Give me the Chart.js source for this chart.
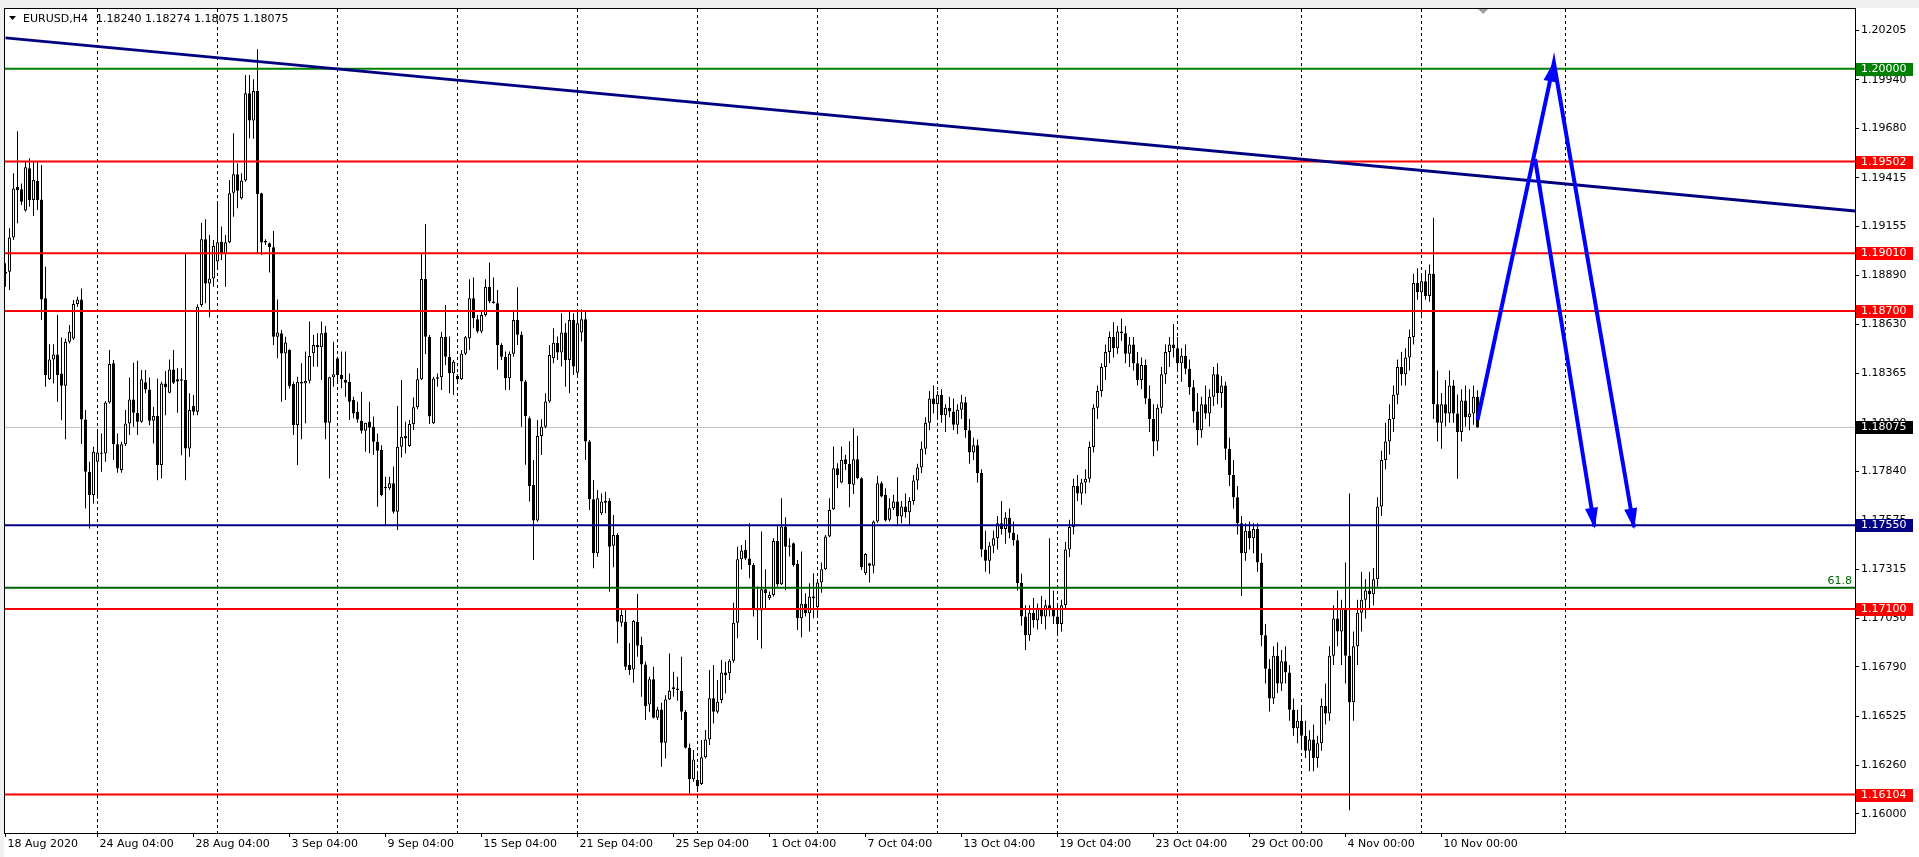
<!DOCTYPE html>
<html><head><meta charset="utf-8">
<script src="https://cdn.jsdelivr.net/npm/chart.js@4.4.1/dist/chart.umd.min.js"></script>
<style>html,body{margin:0;padding:0;background:#fff;overflow:hidden}canvas{display:block}</style>
</head><body><canvas id="c" width="1919" height="857"></canvas>
<script>
const symbolTitle = 'EURUSD,H4';
const lastQuote = ['1.18240', '1.18274', '1.18075', '1.18075'];

const open = [1.18900,1.18911,1.19095,1.19367,1.19353,1.19239,1.19466,1.19296,1.19398,1.19299,
1.18768,1.18333,1.18440,1.18467,1.18365,1.18299,1.18535,1.18553,1.18737,1.18762,
1.18118,1.17837,1.17712,1.17891,1.17941,1.17935,1.18209,1.18419,1.17985,1.17846,
1.17985,1.18096,1.18225,1.18154,1.18105,1.18317,1.18279,1.18111,1.18136,1.17873,
1.18311,1.18261,1.18386,1.18333,1.18326,1.18329,1.17962,1.18190,1.18159,1.18732,
1.19085,1.18848,1.18875,1.18965,1.19072,1.19006,1.19069,1.19335,1.19434,1.19305,
1.19400,1.19869,1.19722,1.19881,1.19332,1.19076,1.19063,1.19042,1.18562,1.18580,
1.18472,1.18490,1.18308,1.18088,1.18320,1.18311,1.18326,1.18473,1.18517,1.18505,
1.18585,1.18100,1.18344,1.18446,1.18356,1.18330,1.18320,1.18222,1.18159,1.18111,
1.18057,1.18106,1.18079,1.17998,1.17954,1.17757,1.17748,1.17775,1.17622,1.17971,
1.18029,1.17975,1.18093,1.18183,1.18333,1.18872,1.18562,1.18097,1.18336,1.18344,
1.18562,1.18455,1.18366,1.18351,1.18334,1.18470,1.18554,1.18769,1.18656,1.18590,
1.18679,1.18830,1.18751,1.18742,1.18518,1.18455,1.18339,1.18470,1.18652,1.18572,
1.18321,1.18124,1.17766,1.17575,1.18029,1.18079,1.18214,1.18446,1.18530,1.18477,
1.18584,1.18437,1.18652,1.18369,1.18584,1.18656,1.17999,1.17689,1.17399,1.17614,
1.17682,1.17682,1.17440,1.17498,1.17027,1.17032,1.16800,1.16776,1.17032,1.16907,
1.16803,1.16588,1.16723,1.16517,1.16561,1.16382,1.16615,1.16680,1.16674,1.16662,
1.16549,1.16356,1.16186,1.16182,1.16161,1.16304,1.16400,1.16621,1.16549,1.16612,
1.16760,1.16755,1.16823,1.17027,1.17367,1.17417,1.17372,1.17337,1.17104,1.17092,
1.17206,1.17158,1.17176,1.17466,1.17233,1.17543,1.17441,1.17453,1.17342,1.17051,
1.17128,1.17077,1.17167,1.17110,1.17242,1.17314,1.17489,1.17636,1.17856,1.17779,
1.17904,1.17879,1.17767,1.17904,1.17802,1.17292,1.17346,1.17332,1.17570,1.17776,
1.17713,1.17579,1.17641,1.17677,1.17597,1.17650,1.17620,1.17680,1.17790,1.17860,
1.17960,1.18100,1.18230,1.18200,1.18250,1.18140,1.18180,1.18160,1.18090,1.18170,
1.18210,1.18060,1.17940,1.17980,1.17830,1.17420,1.17360,1.17440,1.17480,1.17560,
1.17530,1.17590,1.17510,1.17470,1.17240,1.17060,1.16960,1.17080,1.17040,1.17100,
1.17060,1.17120,1.17100,1.17060,1.17020,1.17120,1.17420,1.17540,1.17760,1.17720,
1.17780,1.17800,1.17970,1.18180,1.18270,1.18400,1.18480,1.18560,1.18500,1.18590,
1.18580,1.18470,1.18520,1.18420,1.18330,1.18410,1.18230,1.18120,1.18000,1.18180,
1.18360,1.18480,1.18520,1.18500,1.18420,1.18460,1.18390,1.18290,1.18160,1.18060,
1.18200,1.18150,1.18240,1.18360,1.18260,1.18300,1.17960,1.17820,1.17700,1.17560,
1.17400,1.17520,1.17480,1.17530,1.17350,1.16960,1.16780,1.16620,1.16850,1.16700,
1.16820,1.16760,1.16560,1.16460,1.16500,1.16420,1.16340,1.16400,1.16300,1.16380,
1.16580,1.16540,1.16850,1.17050,1.16980,1.17100,1.16850,1.16600,1.16900,1.17080,
1.17150,1.17200,1.17180,1.17260,1.17650,1.17900,1.18000,1.18120,1.18250,1.18400,
1.18360,1.18450,1.18560,1.18850,1.18800,1.18860,1.18780,1.18900,1.18200,1.18100,
1.18200,1.18150,1.18300,1.18150,1.18050,1.18220,1.18130,1.18150,1.18240];
const high = [1.18956,1.19144,1.19439,1.19665,1.19385,1.19502,1.19520,1.19502,1.19502,1.19484,
1.18938,1.18522,1.18522,1.18678,1.18558,1.18553,1.18625,1.18759,1.18777,1.18821,
1.18168,1.17891,1.17971,1.18064,1.18043,1.18215,1.18490,1.18437,1.18043,1.17998,
1.18168,1.18343,1.18422,1.18433,1.18383,1.18383,1.18343,1.18186,1.18338,1.18320,
1.18378,1.18440,1.18490,1.18392,1.18392,1.19009,1.18258,1.18249,1.18736,1.19174,
1.19192,1.19108,1.19081,1.19287,1.19153,1.19108,1.19403,1.19654,1.19493,1.19439,
1.19967,1.19967,1.19944,1.20105,1.19335,1.19085,1.19067,1.19129,1.18762,1.18598,
1.18562,1.18495,1.18320,1.18347,1.18419,1.18482,1.18643,1.18571,1.18580,1.18643,
1.18619,1.18347,1.18535,1.18455,1.18482,1.18482,1.18365,1.18240,1.18213,1.18267,
1.18100,1.18213,1.18133,1.18043,1.17980,1.17810,1.17810,1.17864,1.18190,1.18329,
1.18106,1.18115,1.18236,1.18392,1.19010,1.19167,1.18571,1.18347,1.18365,1.18589,
1.18732,1.18563,1.18437,1.18362,1.18491,1.18566,1.18870,1.18880,1.18679,1.18697,
1.18870,1.18960,1.18880,1.18813,1.18527,1.18482,1.18482,1.18697,1.18828,1.18590,
1.18330,1.18133,1.17900,1.18115,1.18119,1.18258,1.18518,1.18607,1.18563,1.18688,
1.18634,1.18697,1.18688,1.18697,1.18709,1.18697,1.18008,1.17793,1.17739,1.17721,
1.17730,1.17695,1.17605,1.17507,1.17095,1.17095,1.16916,1.17041,1.17181,1.16952,
1.16817,1.16737,1.16791,1.16576,1.16597,1.16638,1.16862,1.16764,1.16737,1.16844,
1.16558,1.16379,1.16343,1.16218,1.16397,1.16451,1.16773,1.16800,1.16719,1.16827,
1.16817,1.16830,1.17134,1.17435,1.17444,1.17471,1.17560,1.17346,1.17221,1.17516,
1.17314,1.17194,1.17480,1.17547,1.17695,1.17593,1.17480,1.17457,1.17364,1.17409,
1.17185,1.17238,1.17292,1.17256,1.17350,1.17498,1.17695,1.17972,1.17883,1.17972,
1.17928,1.18001,1.18071,1.18030,1.17808,1.17400,1.17346,1.17575,1.17815,1.17785,
1.17749,1.17695,1.17713,1.17808,1.17680,1.17720,1.17700,1.17820,1.17880,1.18000,
1.18130,1.18270,1.18300,1.18270,1.18280,1.18200,1.18240,1.18230,1.18200,1.18250,
1.18240,1.18120,1.18020,1.18010,1.17850,1.17520,1.17460,1.17520,1.17600,1.17680,
1.17620,1.17640,1.17570,1.17500,1.17290,1.17120,1.17120,1.17160,1.17130,1.17170,
1.17150,1.17480,1.17200,1.17130,1.17150,1.17460,1.17580,1.17800,1.17820,1.17800,
1.17850,1.18000,1.18200,1.18300,1.18420,1.18520,1.18590,1.18640,1.18620,1.18660,
1.18620,1.18560,1.18560,1.18480,1.18450,1.18440,1.18300,1.18200,1.18200,1.18400,
1.18520,1.18560,1.18630,1.18560,1.18500,1.18520,1.18440,1.18330,1.18260,1.18240,
1.18300,1.18280,1.18400,1.18420,1.18350,1.18320,1.18020,1.17900,1.17760,1.17600,
1.17560,1.17570,1.17560,1.17560,1.17400,1.17020,1.16830,1.16900,1.16920,1.16880,
1.16900,1.16800,1.16620,1.16560,1.16580,1.16500,1.16450,1.16480,1.16420,1.16620,
1.16700,1.16900,1.17120,1.17200,1.17150,1.17350,1.17720,1.16980,1.17150,1.17300,
1.17260,1.17300,1.17320,1.17700,1.17950,1.18100,1.18200,1.18300,1.18440,1.18480,
1.18500,1.18600,1.18900,1.18930,1.18900,1.18920,1.18950,1.19200,1.18380,1.18260,
1.18330,1.18380,1.18330,1.18250,1.18280,1.18300,1.18280,1.18300,1.18274];
const low = [1.18830,1.18813,1.19081,1.19171,1.19269,1.19233,1.19260,1.19210,1.19242,1.18651,
1.18293,1.18329,1.18311,1.18213,1.18114,1.18011,1.18526,1.18544,1.18723,1.17986,
1.17640,1.17533,1.17667,1.17694,1.17837,1.17891,1.18204,1.17900,1.17832,1.17832,
1.17975,1.18034,1.18079,1.18034,1.18100,1.18258,1.18087,1.17989,1.17792,1.17801,
1.18141,1.18258,1.18308,1.18154,1.17926,1.17792,1.17917,1.18141,1.18141,1.18723,
1.18741,1.18666,1.18830,1.18920,1.18974,1.18830,1.19063,1.19206,1.19251,1.19299,
1.19394,1.19627,1.19625,1.19009,1.19000,1.19054,1.18906,1.18517,1.18446,1.18213,
1.18222,1.18284,1.18034,1.17873,1.18011,1.18097,1.18311,1.18401,1.18401,1.18329,
1.18011,1.17801,1.18294,1.18320,1.18285,1.18240,1.18115,1.18124,1.18100,1.18043,
1.17945,1.17936,1.17927,1.17649,1.17706,1.17551,1.17739,1.17613,1.17524,1.17914,
1.17936,1.17971,1.18061,1.18172,1.18329,1.18469,1.18093,1.18093,1.18294,1.18276,
1.18410,1.18258,1.18249,1.18312,1.18330,1.18464,1.18491,1.18607,1.18581,1.18581,
1.18670,1.18742,1.18740,1.18384,1.18437,1.18276,1.18276,1.18455,1.18518,1.18079,
1.17874,1.17677,1.17363,1.17569,1.17927,1.18070,1.18208,1.18420,1.18437,1.18402,
1.18294,1.18258,1.18357,1.18348,1.18536,1.17900,1.17632,1.17319,1.17381,1.17605,
1.17614,1.17193,1.17324,1.16916,1.17005,1.16773,1.16746,1.16705,1.16844,1.16630,
1.16504,1.16549,1.16513,1.16504,1.16254,1.16298,1.16612,1.16630,1.16608,1.16504,
1.16352,1.16110,1.16173,1.16119,1.16155,1.16298,1.16370,1.16486,1.16540,1.16594,
1.16647,1.16719,1.16812,1.16943,1.17313,1.17363,1.17265,1.17060,1.16934,1.16889,
1.17104,1.17149,1.17167,1.17221,1.17229,1.17203,1.17382,1.17328,1.16988,1.16949,
1.17060,1.16979,1.17051,1.17060,1.17188,1.17310,1.17485,1.17632,1.17749,1.17776,
1.17847,1.17647,1.17718,1.17797,1.17310,1.17283,1.17242,1.17292,1.17564,1.17700,
1.17570,1.17570,1.17632,1.17552,1.17560,1.17590,1.17550,1.17660,1.17740,1.17830,
1.17930,1.18060,1.18150,1.18120,1.18100,1.18050,1.18130,1.18060,1.18040,1.18120,
1.18020,1.17880,1.17900,1.17780,1.17380,1.17300,1.17290,1.17400,1.17420,1.17500,
1.17450,1.17480,1.17440,1.17200,1.17010,1.16880,1.16930,1.17000,1.16990,1.17020,
1.16990,1.17060,1.17020,1.16970,1.16980,1.17100,1.17380,1.17500,1.17680,1.17660,
1.17720,1.17780,1.17940,1.18120,1.18240,1.18330,1.18420,1.18450,1.18470,1.18540,
1.18420,1.18400,1.18380,1.18300,1.18280,1.18200,1.18050,1.17920,1.17950,1.18150,
1.18310,1.18400,1.18450,1.18380,1.18320,1.18360,1.18250,1.18100,1.17980,1.18020,
1.18120,1.18080,1.18190,1.18200,1.18180,1.17900,1.17760,1.17640,1.17500,1.17170,
1.17360,1.17420,1.17400,1.17300,1.16900,1.16700,1.16550,1.16590,1.16650,1.16660,
1.16700,1.16500,1.16420,1.16380,1.16360,1.16300,1.16230,1.16230,1.16250,1.16340,
1.16480,1.16500,1.16800,1.16900,1.16800,1.16700,1.16020,1.16500,1.16800,1.16980,
1.17050,1.17100,1.17120,1.17220,1.17600,1.17850,1.17930,1.18050,1.18200,1.18300,
1.18300,1.18380,1.18520,1.18760,1.18680,1.18760,1.18750,1.18120,1.18000,1.17960,
1.18080,1.18100,1.18100,1.17800,1.18000,1.18080,1.18060,1.18090,1.18075];
const close = [1.18911,1.19095,1.19358,1.19349,1.19287,1.19471,1.19296,1.19403,1.19296,1.18762,
1.18356,1.18440,1.18467,1.18356,1.18299,1.18535,1.18589,1.18737,1.18762,1.18118,
1.17837,1.17712,1.17944,1.17941,1.17934,1.18209,1.18415,1.17985,1.17855,1.17985,
1.18096,1.18225,1.18154,1.18105,1.18333,1.18279,1.18111,1.18136,1.17873,1.18311,
1.18290,1.18386,1.18315,1.18322,1.18333,1.17962,1.18168,1.18159,1.18723,1.19085,
1.18848,1.18875,1.19049,1.19069,1.19006,1.19069,1.19332,1.19434,1.19346,1.19400,
1.19869,1.19722,1.19881,1.19328,1.19067,1.19067,1.19042,1.18562,1.18585,1.18472,
1.18531,1.18297,1.18088,1.18320,1.18311,1.18324,1.18458,1.18517,1.18505,1.18580,
1.18100,1.18344,1.18360,1.18356,1.18333,1.18315,1.18213,1.18150,1.18118,1.18057,
1.18100,1.18073,1.17998,1.17950,1.17712,1.17748,1.17775,1.17622,1.17971,1.18025,
1.18016,1.18093,1.18183,1.18333,1.18872,1.18562,1.18133,1.18338,1.18344,1.18562,
1.18455,1.18366,1.18428,1.18334,1.18470,1.18559,1.18769,1.18661,1.18590,1.18679,
1.18830,1.18751,1.18742,1.18518,1.18455,1.18339,1.18470,1.18652,1.18572,1.18321,
1.18137,1.17761,1.17575,1.18029,1.18079,1.18214,1.18464,1.18530,1.18477,1.18584,
1.18437,1.18652,1.18402,1.18634,1.18656,1.17999,1.17689,1.17399,1.17695,1.17677,
1.17671,1.17435,1.17498,1.17032,1.17068,1.16791,1.16773,1.17036,1.16903,1.16803,
1.16579,1.16723,1.16517,1.16561,1.16382,1.16615,1.16662,1.16669,1.16665,1.16549,
1.16356,1.16186,1.16293,1.16150,1.16304,1.16400,1.16621,1.16549,1.16603,1.16760,
1.16746,1.16823,1.17027,1.17367,1.17414,1.17372,1.17337,1.17095,1.17092,1.17206,
1.17185,1.17176,1.17466,1.17233,1.17543,1.17435,1.17435,1.17337,1.17051,1.17128,
1.17077,1.17167,1.17158,1.17242,1.17314,1.17489,1.17632,1.17856,1.17820,1.17901,
1.17879,1.17772,1.17904,1.17802,1.17324,1.17396,1.17332,1.17570,1.17776,1.17704,
1.17575,1.17641,1.17677,1.17597,1.17650,1.17620,1.17680,1.17790,1.17860,1.17960,
1.18100,1.18230,1.18200,1.18250,1.18140,1.18180,1.18160,1.18090,1.18170,1.18210,
1.18060,1.17940,1.17980,1.17830,1.17420,1.17360,1.17440,1.17480,1.17560,1.17530,
1.17590,1.17510,1.17470,1.17240,1.17060,1.16960,1.17080,1.17040,1.17100,1.17060,
1.17120,1.17100,1.17060,1.17020,1.17120,1.17420,1.17540,1.17760,1.17720,1.17780,
1.17800,1.17970,1.18180,1.18270,1.18400,1.18480,1.18560,1.18500,1.18590,1.18580,
1.18470,1.18520,1.18420,1.18330,1.18410,1.18230,1.18120,1.18000,1.18180,1.18360,
1.18480,1.18520,1.18500,1.18420,1.18460,1.18390,1.18290,1.18160,1.18060,1.18200,
1.18150,1.18240,1.18360,1.18260,1.18300,1.17960,1.17820,1.17700,1.17560,1.17400,
1.17520,1.17480,1.17530,1.17350,1.16960,1.16780,1.16620,1.16850,1.16700,1.16820,
1.16760,1.16560,1.16460,1.16500,1.16420,1.16340,1.16400,1.16300,1.16380,1.16580,
1.16540,1.16850,1.17050,1.16980,1.17100,1.16850,1.16600,1.16900,1.17080,1.17150,
1.17200,1.17180,1.17260,1.17650,1.17900,1.18000,1.18120,1.18250,1.18400,1.18360,
1.18450,1.18560,1.18850,1.18800,1.18860,1.18780,1.18900,1.18200,1.18100,1.18200,
1.18150,1.18300,1.18150,1.18050,1.18220,1.18130,1.18150,1.18240,1.18075];

const xTickIdx = [0, 23, 47, 71, 95, 119, 143, 167, 191, 215, 239, 263, 287, 311, 335, 359];
const xTickLabels = ['18 Aug 2020', '24 Aug 04:00', '28 Aug 04:00', '3 Sep 04:00', '9 Sep 04:00',
  '15 Sep 04:00', '21 Sep 04:00', '25 Sep 04:00', '1 Oct 04:00', '7 Oct 04:00', '13 Oct 04:00',
  '19 Oct 04:00', '23 Oct 04:00', '29 Oct 00:00', '4 Nov 00:00', '10 Nov 00:00'];
const gridIdx = [23, 53, 83, 113, 143, 173, 203, 233, 263, 293, 324, 354, 390];
const yTicks = [1.20205, 1.19940, 1.19680, 1.19415, 1.19155, 1.18890, 1.18630, 1.18365, 1.18100,
  1.17840, 1.17575, 1.17315, 1.17050, 1.16790, 1.16525, 1.16260, 1.16000];
const levelPrices = [1.20000, 1.19502, 1.19010, 1.18700, 1.17550, 1.17100, 1.16104];
const fiboPrice = 1.17215;
const fiboText = '61.8';
const bidPrice = 1.18075;
const trendIdx = [0, 462.375];
const trendPrice = [1.20166, 1.19237];
const arrowUpIdx = [368, 387.1, 407.1];
const arrowUpPrice = [1.18115, 1.20033, 1.17539];
const arrowDownIdx = [382.4, 397.25];
const arrowDownPrice = [1.19515, 1.17542];
const shiftIdx = 369.4;

// ---- styles (kept apart from the data) ----
const COL = { red: '#ff0000', green: '#008000', fibo: '#006400', navy: '#000080', blue: '#0000ff', bid: '#c0c0c0' };
const levelColors = [COL.green, COL.red, COL.red, COL.red, COL.navy, COL.red, COL.red];
const FONT = '11px "DejaVu Sans"';
const xMin = -0.125, xMax = 462.375, yMin = 1.15898, yMax = 1.20321;

const idx = open.map((_, i) => i);
const seg = (xs, ys) => xs.map((x, k) => ({ x: x, y: ys[k] }));
const hline = p => [{ x: xMin, y: p }, { x: xMax, y: p }];

const datasets = [];
datasets.push({ type: 'line', label: 'arrowUp', data: seg(arrowUpIdx, arrowUpPrice), borderColor: COL.blue, borderWidth: 4, pointRadius: 0, order: 0, borderJoinStyle: 'miter' });
datasets.push({ type: 'line', label: 'arrowDown', data: seg(arrowDownIdx, arrowDownPrice), borderColor: COL.blue, borderWidth: 4, pointRadius: 0, order: 0 });
datasets.push({ type: 'line', label: 'trend', data: seg(trendIdx, trendPrice), borderColor: COL.navy, borderWidth: 3, pointRadius: 0, order: 1 });
levelPrices.forEach((p, k) => datasets.push({ type: 'line', label: 'lvl' + k, data: hline(p), borderColor: levelColors[k], borderWidth: 2, pointRadius: 0, order: 2 }));
datasets.push({ type: 'line', label: 'fibo', data: hline(fiboPrice), borderColor: COL.fibo, borderWidth: 2, pointRadius: 0, order: 2 });
datasets.push({ type: 'bar', label: 'body', data: idx.map(i => ({ x: i, y: [open[i], close[i]] })),
  backgroundColor: idx.map(i => close[i] >= open[i] ? '#ffffff' : '#000000'), borderColor: '#000000', borderWidth: 1,
  borderSkipped: false, grouped: false, barPercentage: 0.75, categoryPercentage: 1, minBarLength: 1, inflateAmount: 0, order: 3 });
datasets.push({ type: 'bar', label: 'wick', data: idx.map(i => ({ x: i, y: [low[i], high[i]] })),
  backgroundColor: '#000000', borderWidth: 0, grouped: false, barPercentage: 0.25, categoryPercentage: 1, inflateAmount: 0, order: 4 });
datasets.push({ type: 'line', label: 'bid', data: hline(bidPrice), borderColor: COL.bid, borderWidth: 1, pointRadius: 0, order: 5 });

const mt4 = {
  id: 'mt4',
  beforeDraw(chart) {
    const ctx = chart.ctx;
    ctx.save();
    ctx.fillStyle = '#ffffff'; ctx.fillRect(0, 0, chart.width, chart.height);
    ctx.fillStyle = '#f0f0f0'; ctx.fillRect(0, 0, chart.width, 8); ctx.fillRect(0, 0, 4, chart.height);
    ctx.restore();
  },
  beforeDatasetsDraw(chart) {
    const { ctx, chartArea: a, scales: { x } } = chart;
    ctx.save();
    ctx.strokeStyle = '#000'; ctx.lineWidth = 1; ctx.setLineDash([3, 3]);
    gridIdx.forEach(g => {
      const px = Math.floor(x.getPixelForValue(g)) + 0.5;
      ctx.beginPath(); ctx.moveTo(px, a.top); ctx.lineTo(px, a.bottom); ctx.stroke();
    });
    ctx.restore();
  },
  afterDatasetsDraw(chart) {
    const { ctx, chartArea: a, scales: { x, y } } = chart;
    ctx.save();
    const head = (x0, y0, x1, y1) => {
      const p0 = [x.getPixelForValue(x0), y.getPixelForValue(y0)], p1 = [x.getPixelForValue(x1), y.getPixelForValue(y1)];
      const dx = p1[0] - p0[0], dy = p1[1] - p0[1], L = Math.hypot(dx, dy), ux = dx / L, uy = dy / L;
      const len = 19, hw = 6.5;
      const bx = p1[0] - ux * len, by = p1[1] - uy * len;
      ctx.beginPath(); ctx.moveTo(p1[0] + ux * 2, p1[1] + uy * 2);
      ctx.lineTo(bx - uy * hw, by + ux * hw); ctx.lineTo(bx + uy * hw, by - ux * hw); ctx.closePath();
      ctx.fillStyle = COL.blue; ctx.fill();
    };
    head(arrowUpIdx[0], arrowUpPrice[0], arrowUpIdx[1], arrowUpPrice[1]);
    head(arrowUpIdx[1], arrowUpPrice[1], arrowUpIdx[2], arrowUpPrice[2]);
    head(arrowDownIdx[0], arrowDownPrice[0], arrowDownIdx[1], arrowDownPrice[1]);
    ctx.strokeStyle = '#000'; ctx.lineWidth = 1;
    ctx.strokeRect(4.5, 8.5, Math.round(a.right) - 4, Math.round(a.bottom) - 8);
    const sx = x.getPixelForValue(shiftIdx);
    ctx.fillStyle = '#a0a0a0';
    ctx.beginPath(); ctx.moveTo(sx - 5, 9); ctx.lineTo(sx + 5, 9); ctx.lineTo(sx, 14); ctx.closePath(); ctx.fill();
    ctx.fillStyle = '#000';
    ctx.beginPath(); ctx.moveTo(9, 16); ctx.lineTo(16, 16); ctx.lineTo(12.5, 20); ctx.closePath(); ctx.fill();
    ctx.font = FONT; ctx.textBaseline = 'middle'; ctx.textAlign = 'left';
    ctx.fillText(symbolTitle, 23, 19.5);
    ctx.fillText(lastQuote.join(' '), 96, 19.5);
    ctx.fillStyle = COL.fibo; ctx.textAlign = 'right'; ctx.textBaseline = 'alphabetic';
    ctx.fillText(fiboText, a.right - 3, y.getPixelForValue(fiboPrice) - 4);
    ctx.restore();
  },
  afterDraw(chart) {
    const { ctx, chartArea: a, scales: { y } } = chart;
    ctx.save();
    ctx.font = FONT; ctx.textBaseline = 'middle'; ctx.textAlign = 'left';
    const box = (p, bg) => {
      const py = Math.round(y.getPixelForValue(p));
      ctx.fillStyle = bg; ctx.fillRect(a.right + 1, py - 6, 57, 13);
      ctx.fillStyle = '#ffffff'; ctx.fillText(p.toFixed(5), a.right + 6, py + 0.5);
    };
    levelPrices.forEach((p, k) => box(p, levelColors[k]));
    box(bidPrice, '#000000');
    ctx.restore();
  }
};

new Chart(document.getElementById('c'), {
  type: 'bar',
  data: { datasets },
  plugins: [mt4],
  options: {
    responsive: false, animation: false, devicePixelRatio: 1,
    layout: { padding: { left: 5, top: 9, right: 0, bottom: 0 } },
    plugins: { legend: { display: false }, tooltip: { enabled: false } },
    scales: {
      x: {
        type: 'linear', min: xMin, max: xMax, offset: false,
        afterBuildTicks: s => { s.ticks = xTickIdx.map(v => ({ value: v })); },
        afterFit: s => { s.height = 24; },
        ticks: { autoSkip: false, maxRotation: 0, align: 'start', labelOffset: 2, padding: 1, color: '#000',
          font: { family: 'DejaVu Sans', size: 11 }, callback: (v, i) => xTickLabels[i] },
        grid: { offset: false, drawOnChartArea: false, drawTicks: true, tickLength: 4, color: '#000' },
        border: { display: false }
      },
      y: {
        type: 'linear', position: 'right', min: yMin, max: yMax,
        afterBuildTicks: s => { s.ticks = yTicks.map(v => ({ value: v })); },
        afterFit: s => { s.width = 64; },
        ticks: { autoSkip: false, padding: 2, color: '#000', font: { family: 'DejaVu Sans', size: 11 },
          callback: v => Number(v).toFixed(5) },
        grid: { drawOnChartArea: false, drawTicks: true, tickLength: 4, color: '#000' },
        border: { display: false }
      }
    }
  }
});
</script>
</body></html>
